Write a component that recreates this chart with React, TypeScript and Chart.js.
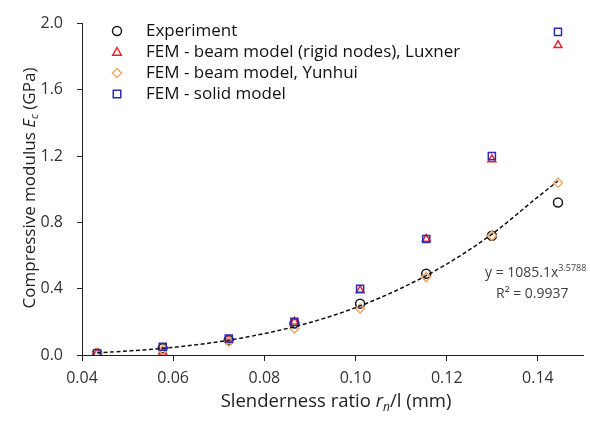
import React, { useEffect, useRef } from 'react';
import { Chart, registerables } from 'chart.js';

Chart.register(...registerables);

// ---- data ----
const xValues = [0.0433, 0.0577, 0.0722, 0.0866, 0.101, 0.1155, 0.1299, 0.1444];
const experiment = [0.01, 0.04, 0.09, 0.19, 0.31, 0.49, 0.72, 0.92];
const femLuxner = [0.01, 0.02, 0.09, 0.2, 0.39, 0.7, 1.18, 1.87];
const femYunhui = [0.01, 0.03, 0.08, 0.16, 0.28, 0.47, 0.72, 1.04];
const femSolid = [0.01, 0.05, 0.1, 0.2, 0.4, 0.7, 1.2, 1.95];

const trendX = [0.0433, 0.05, 0.06, 0.07, 0.08, 0.09, 0.1, 0.11, 0.12, 0.13, 0.14, 0.1444];
const trendY = [0.013, 0.024, 0.046, 0.08, 0.129, 0.196, 0.286, 0.403, 0.549, 0.731, 0.954, 1.05];

const seriesLabels = [
  'Experiment',
  'FEM - beam model (rigid nodes), Luxner',
  'FEM - beam model, Yunhui',
  'FEM - solid model',
];
const xTicks = [0.04, 0.06, 0.08, 0.1, 0.12, 0.14];
const yTicks = [0, 0.4, 0.8, 1.2, 1.6, 2.0];
const trendEquation = 'y = 1085.1x';
const trendExponent = '3.5788';
const trendR2 = 'R² = 0.9937';

const FONT = '"Open Sans", Lato, sans-serif';
const colors = ['#1a1a1a', '#e8202a', '#f5a86a', '#2a2ab4'];
const styles = ['circle', 'triangle', 'rectRot', 'rect'];

function drawMarker(ctx: CanvasRenderingContext2D, style: string, x: number, y: number, r: number, color: string) {
  ctx.save();
  ctx.strokeStyle = color;
  ctx.lineWidth = 1.5;
  ctx.beginPath();
  if (style === 'circle') {
    ctx.arc(x, y, r, 0, Math.PI * 2);
  } else if (style === 'triangle') {
    ctx.moveTo(x, y - r);
    ctx.lineTo(x + r * 0.95, y + r * 0.7);
    ctx.lineTo(x - r * 0.95, y + r * 0.7);
    ctx.closePath();
  } else if (style === 'rectRot') {
    ctx.moveTo(x, y - r);
    ctx.lineTo(x + r, y);
    ctx.lineTo(x, y + r);
    ctx.lineTo(x - r, y);
    ctx.closePath();
  } else {
    const s = r * 0.75;
    ctx.rect(x - s, y - s, 2 * s, 2 * s);
  }
  ctx.stroke();
  ctx.restore();
}

type Seg = { t: string; italic?: boolean; sub?: boolean; sup?: boolean };

function drawRich(ctx: CanvasRenderingContext2D, segs: Seg[], size: number, cx: number, cy: number, align: 'center' | 'left') {
  const fontFor = (s: Seg) =>
    `${s.italic ? 'italic ' : ''}${s.sub || s.sup ? Math.round(size * 0.65) : size}px ${FONT}`;
  let total = 0;
  for (const s of segs) {
    ctx.font = fontFor(s);
    total += ctx.measureText(s.t).width;
  }
  let x = align === 'center' ? cx - total / 2 : cx;
  ctx.textBaseline = 'middle';
  ctx.textAlign = 'left';
  for (const s of segs) {
    ctx.font = fontFor(s);
    const dy = s.sub ? size * 0.3 : s.sup ? -size * 0.35 : 0;
    ctx.fillText(s.t, x, cy + dy);
    x += ctx.measureText(s.t).width;
  }
}

const extrasPlugin = {
  id: 'extras',
  afterDraw(chart: any) {
    const ctx: CanvasRenderingContext2D = chart.ctx;
    ctx.save();
    // legend
    const rows = [31, 52, 73, 94];
    seriesLabels.forEach((lab, i) => {
      drawMarker(ctx, styles[i], 117, rows[i], i === 3 ? 5 : 4.5, colors[i]);
      ctx.fillStyle = '#111';
      ctx.font = `17px ${FONT}`;
      ctx.textAlign = 'left';
      ctx.textBaseline = 'middle';
      ctx.fillText(lab, 146, rows[i]);
    });
    // trendline annotation
    ctx.fillStyle = '#404040';
    drawRich(ctx, [{ t: trendEquation }, { t: trendExponent, sup: true }], 14, 485, 273, 'left');
    ctx.font = `14px ${FONT}`;
    ctx.textAlign = 'left';
    ctx.textBaseline = 'middle';
    ctx.fillText(trendR2, 496, 294);
    // axis titles
    ctx.fillStyle = '#222';
    drawRich(
      ctx,
      [{ t: 'Slenderness ratio ' }, { t: 'r', italic: true }, { t: 'n', italic: true, sub: true }, { t: '/l (mm)' }],
      18.5,
      336,
      402,
      'center'
    );
    ctx.save();
    ctx.translate(30, 188);
    ctx.rotate(-Math.PI / 2);
    drawRich(
      ctx,
      [{ t: 'Compressive modulus ' }, { t: 'E', italic: true }, { t: 'c', italic: true, sub: true }, { t: ' (GPa)' }],
      17,
      0,
      0,
      'center'
    );
    ctx.restore();
    ctx.restore();
  },
};

export default function App() {
  const ref = useRef<HTMLCanvasElement>(null);
  useEffect(() => {
    if (!ref.current) return;
    const mk = (data: number[]) => data.map((y, i) => ({ x: xValues[i], y }));
    const scatterDs = (i: number, data: number[], order: number) => ({
      type: 'scatter' as const,
      label: seriesLabels[i],
      data: mk(data),
      pointStyle: styles[i],
      pointRadius: i === 3 ? 5 : 4.5,
      borderColor: colors[i],
      backgroundColor: 'rgba(0,0,0,0)',
      pointBorderWidth: 1.5,
      order,
    });
    const chart = new Chart(ref.current, {
      type: 'scatter',
      data: {
        datasets: [
          {
            type: 'line' as const,
            label: 'Trend',
            data: trendX.map((x, i) => ({ x, y: trendY[i] })),
            borderColor: '#111',
            borderWidth: 1.5,
            borderDash: [4, 2.5],
            pointRadius: 0,
            cubicInterpolationMode: 'monotone',
            fill: false,
            order: 0,
          } as any,
          scatterDs(0, experiment, 4),
          scatterDs(1, femLuxner, 3),
          scatterDs(2, femYunhui, 2),
          scatterDs(3, femSolid, 1),
        ],
      },
      options: {
        animation: false,
        responsive: false,
        layout: { padding: { top: 22, right: 0, left: 0, bottom: 0 } },
        plugins: { legend: { display: false }, tooltip: { enabled: false } },
        scales: {
          x: {
            type: 'linear',
            min: 0.04,
            max: 0.15,
            afterBuildTicks: (s: any) => {
              s.ticks = xTicks.map((v) => ({ value: v }));
            },
            afterFit: (s: any) => {
              s.height = 68;
            },
            ticks: {
              callback: (v: any) => Number(v).toFixed(2),
              font: { family: FONT, size: 16 },
              color: '#333',
              padding: 8,
              maxRotation: 0,
            },
            grid: { drawOnChartArea: false, drawTicks: true, tickLength: 6, color: '#222' },
            border: { display: true, color: '#222', width: 1 },
          },
          y: {
            type: 'linear',
            min: 0,
            max: 2,
            afterBuildTicks: (s: any) => {
              s.ticks = yTicks.map((v) => ({ value: v }));
            },
            afterFit: (s: any) => {
              s.width = 82;
            },
            ticks: {
              callback: (v: any) => Number(v).toFixed(1),
              font: { family: FONT, size: 16 },
              color: '#333',
              padding: 14,
            },
            grid: { drawOnChartArea: false, drawTicks: true, tickLength: 5, color: '#222' },
            border: { display: true, color: '#222', width: 1 },
          },
        },
      } as any,
      plugins: [extrasPlugin],
    });
    return () => chart.destroy();
  }, []);
  return (
    <div style={{ position: 'absolute', left: 0, top: 0, width: 590, height: 423, background: '#fff' }}>
      <canvas ref={ref} width={590} height={423} />
    </div>
  );
}
